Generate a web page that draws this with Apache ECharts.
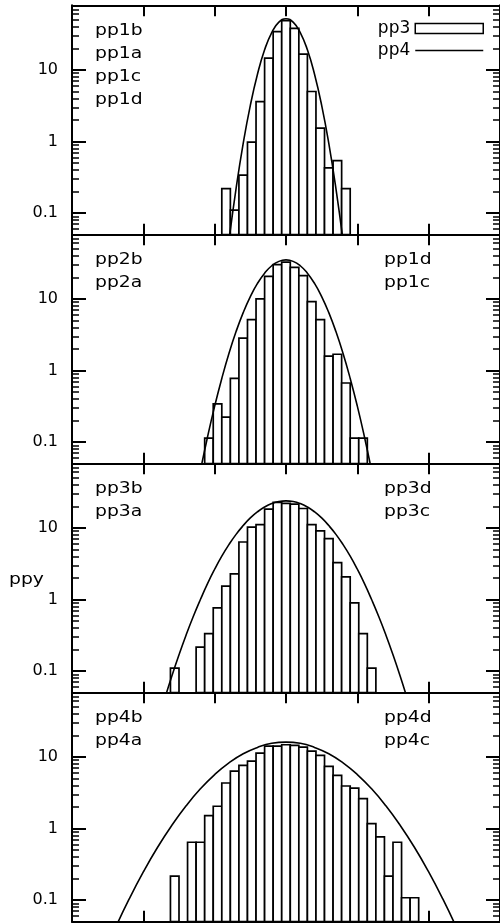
<!DOCTYPE html>
<html lang="en">
<head>
<meta charset="utf-8">
<title>ppy</title>
<script src="https://cdn.jsdelivr.net/npm/echarts@6/dist/echarts.min.js"></script>
<style>
  html, body { margin: 0; padding: 0; background: #fff; }
  #chart { width: 500px; height: 924px; }
</style>
</head>
<body>
<div id="chart"></div>
<script>
// histogram bins (centres) and heights, one pair per panel
var bins1 = [-0.84, -0.72, -0.60, -0.48, -0.36, -0.24, -0.12, 0, 0.12, 0.24, 0.36, 0.48, 0.60, 0.72, 0.84];
var hist1 = [0.22, 0.11, 0.34, 0.98, 3.6, 14.6, 34.3, 48.8, 38.2, 16.6, 5.0, 1.54, 0.43, 0.54, 0.22];

var bins2 = [-1.08, -0.96, -0.84, -0.72, -0.60, -0.48, -0.36, -0.24, -0.12, 0, 0.12, 0.24, 0.36, 0.48, 0.60, 0.72, 0.84, 0.96, 1.08];
var hist2 = [0.114, 0.343, 0.223, 0.78, 2.83, 5.15, 10.0, 20.7, 30.1, 32.6, 27.7, 21.2, 9.2, 5.15, 1.59, 1.69, 0.67, 0.114, 0.114];

var bins3 = [-1.56, -1.20, -1.08, -0.96, -0.84, -0.72, -0.60, -0.48, -0.36, -0.24, -0.12, 0, 0.12, 0.24, 0.36, 0.48, 0.60, 0.72, 0.84, 0.96, 1.08, 1.20];
var hist3 = [0.11, 0.217, 0.334, 0.764, 1.54, 2.29, 6.37, 10.3, 11.1, 18.3, 22.7, 22.0, 21.5, 18.7, 11.1, 9.08, 7.10, 3.27, 2.08, 0.90, 0.334, 0.11];

var bins4 = [-1.56, -1.32, -1.20, -1.08, -0.96, -0.84, -0.72, -0.60, -0.48, -0.36, -0.24, -0.12, 0, 0.12, 0.24, 0.36, 0.48, 0.60, 0.72, 0.84, 0.96, 1.08, 1.20, 1.32, 1.44, 1.56, 1.68, 1.80];
var hist4 = [0.216, 0.644, 0.644, 1.52, 2.05, 4.33, 6.36, 7.63, 8.77, 11.3, 14.2, 14.2, 14.8, 14.5, 13.7, 12.1, 10.5, 7.39, 5.54, 3.93, 3.68, 2.62, 1.17, 0.764, 0.216, 0.644, 0.108, 0.108];

// fitted curves
var curveX1 = [-0.9, -0.8, -0.7, -0.6, -0.5, -0.4, -0.3, -0.2, -0.1, 0, 0.1, 0.2, 0.3, 0.4, 0.5, 0.6, 0.7, 0.8, 0.9];
var curve1 = [0.0062, 0.041, 0.22, 0.94, 3.2, 8.7, 19.1, 33.3, 46.5, 52, 46.5, 33.3, 19.1, 8.7, 3.2, 0.94, 0.22, 0.041, 0.0062];

var curveX2 = [-1.3, -1.2, -1.1, -1.0, -0.9, -0.8, -0.7, -0.6, -0.5, -0.4, -0.3, -0.2, -0.1, 0, 0.1, 0.2, 0.3, 0.4, 0.5, 0.6, 0.7, 0.8, 0.9, 1.0, 1.1, 1.2, 1.3];
var curve2 = [0.0124, 0.040, 0.118, 0.318, 0.776, 1.73, 3.50, 6.45, 10.8, 16.5, 22.9, 29.1, 33.5, 35.1, 33.5, 29.1, 22.9, 16.5, 10.8, 6.45, 3.50, 1.73, 0.776, 0.318, 0.118, 0.040, 0.0124];

var curveX3 = [-1.8, -1.7, -1.6, -1.5, -1.4, -1.3, -1.2, -1.1, -1.0, -0.9, -0.8, -0.7, -0.6, -0.5, -0.4, -0.3, -0.2, -0.1, 0, 0.1, 0.2, 0.3, 0.4, 0.5, 0.6, 0.7, 0.8, 0.9, 1.0, 1.1, 1.2, 1.3, 1.4, 1.5, 1.6, 1.7, 1.8];
var curve3 = [0.0191, 0.0413, 0.0855, 0.169, 0.320, 0.579, 1.00, 1.67, 2.65, 4.03, 5.85, 8.14, 10.8, 13.8, 16.8, 19.6, 21.9, 23.4, 23.9, 23.4, 21.9, 19.6, 16.8, 13.8, 10.8, 8.14, 5.85, 4.03, 2.65, 1.67, 1.00, 0.579, 0.320, 0.169, 0.0855, 0.0413, 0.0191];

var curveX4 = [-2.6, -2.4, -2.2, -2.0, -1.8, -1.6, -1.4, -1.2, -1.0, -0.8, -0.6, -0.4, -0.2, 0, 0.2, 0.4, 0.6, 0.8, 1.0, 1.2, 1.4, 1.6, 1.8, 2.0, 2.2, 2.4, 2.6];
var curve4 = [0.0139, 0.0394, 0.103, 0.248, 0.548, 1.11, 2.08, 3.59, 5.68, 8.28, 11.1, 13.6, 15.5, 16.1, 15.5, 13.6, 11.1, 8.28, 5.68, 3.59, 2.08, 1.11, 0.548, 0.248, 0.103, 0.0394, 0.0139];

var leftTags = [['pp1b', 'pp1a', 'pp1c', 'pp1d'], ['pp2b', 'pp2a'], ['pp3b', 'pp3a'], ['pp4b', 'pp4a']];
var rightTags = [[], ['pp1d', 'pp1c'], ['pp3d', 'pp3c'], ['pp4d', 'pp4c']];

var yMajor = [0.1, 1, 10];
var yMinor = [0.06, 0.07, 0.08, 0.09, 0.2, 0.3, 0.4, 0.5, 0.6, 0.7, 0.8, 0.9, 2, 3, 4, 5, 6, 7, 8, 9, 20, 30, 40, 50, 60, 70];
var yMin = 0.05, yMax = 80;
var xMin = -3, xMax = 3;
var binWidth = 0.12;

var bins = [bins1, bins2, bins3, bins4];
var hists = [hist1, hist2, hist3, hist4];
var curveXs = [curveX1, curveX2, curveX3, curveX4];
var curves = [curve1, curve2, curve3, curve4];

var FONT = '"DejaVu Sans", sans-serif';
var gridLeft = 72, gridWidth = 429, firstTop = 5.3, panelStep = 229, panelH = 229.4;

function zip(a, b) {
    return a.map(function (v, i) { return [v, b[i]]; });
}

function histItem(params, api) {
    var x = api.value(0), v = api.value(1);
    var a = api.coord([x - binWidth / 2, v]);
    var b = api.coord([x + binWidth / 2, yMin]);
    return {
        type: 'rect',
        shape: { x: a[0], y: a[1], width: b[0] - a[0], height: b[1] - a[1] },
        style: { fill: '#fff', stroke: '#000', lineWidth: 1.7 }
    };
}

function lg(v) { return Math.log10(v); }

function tag(text, x, y) {
    return { type: 'text', x: x, y: y, scaleX: 1.25,
        style: { text: text, font: '15px ' + FONT, fill: '#000', verticalAlign: 'middle' } };
}

var grids = [], xAxes = [], yAxes = [], series = [], graphics = [];

for (var i = 0; i < 4; i++) {
    var panelTop = firstTop + i * panelStep;
    grids.push({ left: gridLeft, top: panelTop, width: gridWidth, height: panelH });

    ['bottom', 'top'].forEach(function (pos) {
        xAxes.push({
            type: 'value', gridIndex: i, position: pos, min: xMin, max: xMax, interval: 1,
            axisLine: { onZero: false, lineStyle: { color: '#000', width: 2 } },
            axisTick: { inside: true, length: 11, lineStyle: { color: '#000', width: 2 } },
            axisLabel: { show: false },
            splitLine: { show: false }
        });
    });

    // data axis (log), hidden; frame and ticks come from the linear twins below
    yAxes.push({ type: 'log', gridIndex: i, min: yMin, max: yMax, show: false });

    ['left', 'right'].forEach(function (pos) {
        yAxes.push({
            type: 'value', gridIndex: i, position: pos, min: lg(yMin), max: lg(yMax),
            axisLine: { onZero: false, lineStyle: { color: '#000', width: 2 } },
            axisTick: { inside: true, length: 14, customValues: yMajor.map(lg), lineStyle: { color: '#000', width: 2 } },
            axisLabel: pos === 'left' ? {
                customValues: yMajor.map(lg), margin: 14, color: '#000', fontSize: 16, fontFamily: FONT,
                formatter: function (v) { return String(+Math.pow(10, v).toPrecision(1)); }
            } : { show: false },
            splitLine: { show: false }
        });
        yAxes.push({
            type: 'value', gridIndex: i, position: pos, min: lg(yMin), max: lg(yMax),
            axisLine: { show: false, onZero: false },
            axisTick: { inside: true, length: 7, customValues: yMinor.map(lg), lineStyle: { color: '#000', width: 1.5 } },
            axisLabel: { show: false },
            splitLine: { show: false }
        });
    });

    series.push({
        name: 'pp3', type: 'custom', xAxisIndex: 2 * i, yAxisIndex: 5 * i,
        renderItem: histItem, encode: { x: 0, y: 1 },
        itemStyle: { color: '#fff', borderColor: '#000', borderWidth: 1.5 },
        data: zip(bins[i], hists[i]), z: 2
    });
    series.push({
        name: 'pp4', type: 'line', xAxisIndex: 2 * i, yAxisIndex: 5 * i,
        data: zip(curveXs[i], curves[i]), smooth: true, symbol: 'none', clip: true,
        itemStyle: { color: '#000' },
        lineStyle: { color: '#000', width: 1.6 }, z: 3
    });

    leftTags[i].forEach(function (t, j) {
        graphics.push(tag(t, 95, panelTop + 25.5 + j * 23));
    });
    rightTags[i].forEach(function (t, j) {
        graphics.push(tag(t, 384, panelTop + 25.5 + j * 23));
    });
}

graphics.push(tag('ppy', 9, 580));

var chart = echarts.init(document.getElementById('chart'), null, { renderer: 'canvas' });
chart.setOption({
    animation: false,
    backgroundColor: '#fff',
    textStyle: { fontFamily: FONT },
    grid: grids,
    xAxis: xAxes,
    yAxis: yAxes,
    legend: {
        orient: 'vertical', right: 16, top: 20, padding: 0, align: 'right',
        itemWidth: 68, itemHeight: 10, itemGap: 5, selectedMode: false,
        textStyle: { color: '#000', fontSize: 17, fontFamily: FONT },
        data: [
            { name: 'pp3', icon: 'rect', itemStyle: { color: '#fff', borderColor: '#000', borderWidth: 1.5 } },
            { name: 'pp4', itemStyle: { color: 'rgba(0,0,0,0)', borderColor: 'rgba(0,0,0,0)', borderWidth: 0, opacity: 0 },
              lineStyle: { color: '#000', width: 1.5 } }
        ]
    },
    graphic: graphics,
    series: series
});
</script>
</body>
</html>
